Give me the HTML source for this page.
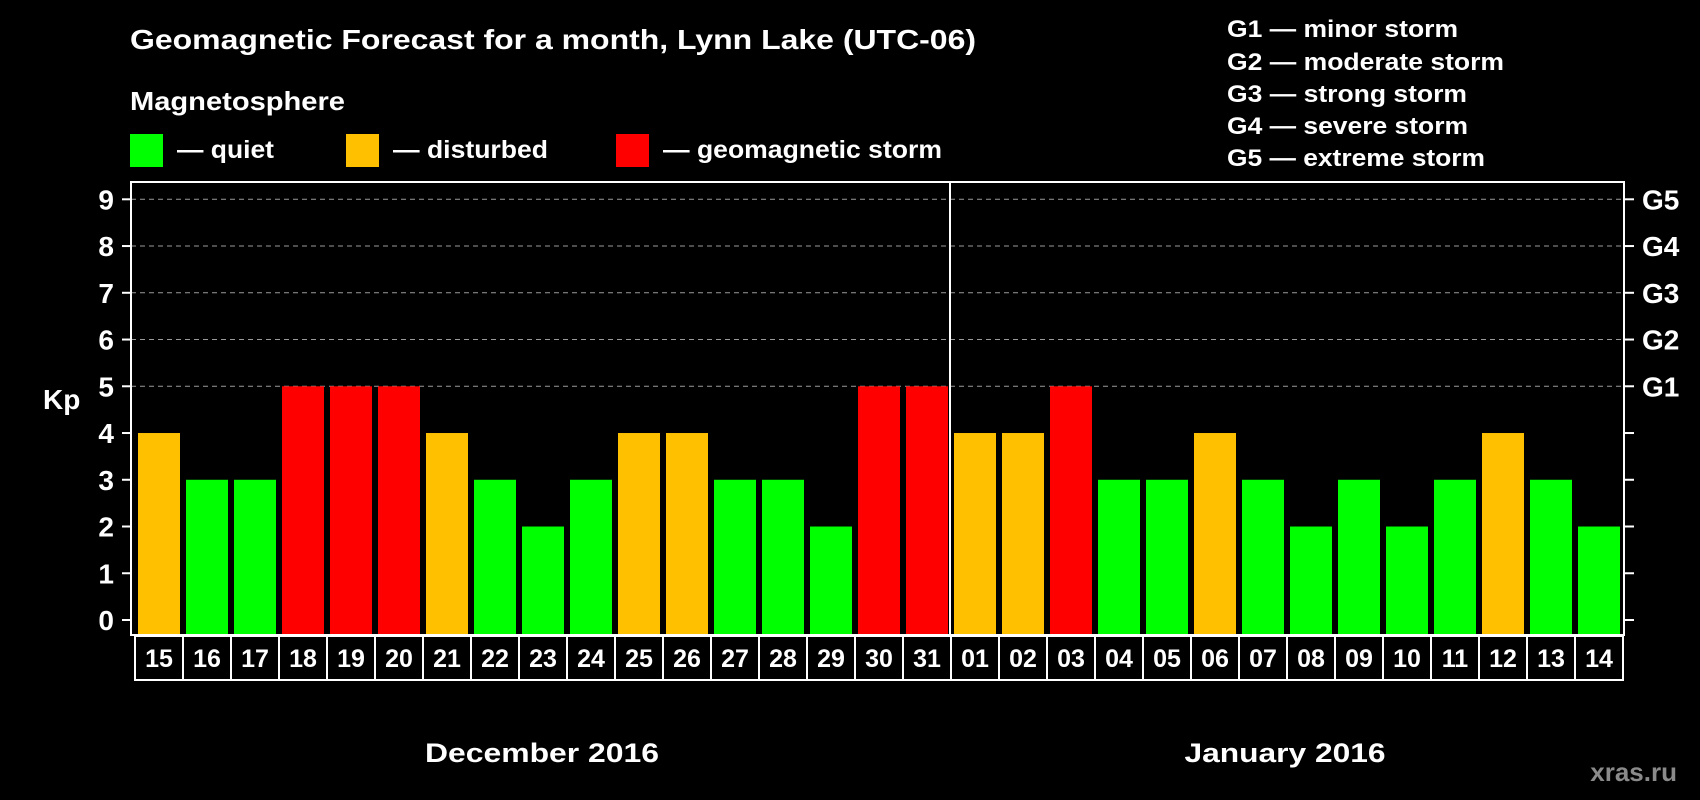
<!DOCTYPE html>
<html><head><meta charset="utf-8">
<style>
html,body{margin:0;padding:0;background:#000;}
svg{display:block;font-family:"Liberation Sans",sans-serif;font-weight:bold;}
</style></head>
<body>
<svg id="chart" width="1700" height="800" viewBox="0 0 1700 800" xmlns="http://www.w3.org/2000/svg">
<rect width="1700" height="800" fill="#000"/>
<text x="130" y="49" fill="#fff" font-size="28" textLength="846" lengthAdjust="spacingAndGlyphs">Geomagnetic Forecast for a month, Lynn Lake (UTC-06)</text>
<text x="130" y="110" fill="#fff" font-size="26" textLength="215" lengthAdjust="spacingAndGlyphs">Magnetosphere</text>
<g>
<rect x="130" y="134" width="33" height="33" fill="#00ff00"/>
<text x="177" y="158" fill="#fff" font-size="25" textLength="97" lengthAdjust="spacingAndGlyphs">— quiet</text></g>
<g>
<rect x="346" y="134" width="33" height="33" fill="#ffc000"/>
<text x="393" y="158" fill="#fff" font-size="25" textLength="155" lengthAdjust="spacingAndGlyphs">— disturbed</text></g>
<g>
<rect x="616" y="134" width="33" height="33" fill="#ff0000"/>
<text x="663" y="158" fill="#fff" font-size="25" textLength="279" lengthAdjust="spacingAndGlyphs">— geomagnetic storm</text></g>
<g fill="#fff" font-size="24">
<text x="1227" y="37" textLength="231" lengthAdjust="spacingAndGlyphs">G1 — minor storm</text>
<text x="1227" y="70" textLength="277" lengthAdjust="spacingAndGlyphs">G2 — moderate storm</text>
<text x="1227" y="102" textLength="240" lengthAdjust="spacingAndGlyphs">G3 — strong storm</text>
<text x="1227" y="134" textLength="241" lengthAdjust="spacingAndGlyphs">G4 — severe storm</text>
<text x="1227" y="166" textLength="258" lengthAdjust="spacingAndGlyphs">G5 — extreme storm</text>
</g>
<text x="43" y="409" fill="#fff" font-size="28">Kp</text>
<g id="grid"></g>
<g id="bars"></g>
<g id="axes"></g>
<text x="542" y="762" fill="#fff" font-size="27" text-anchor="middle" textLength="234" lengthAdjust="spacingAndGlyphs">December 2016</text>
<text x="1285" y="762" fill="#fff" font-size="27" text-anchor="middle" textLength="201" lengthAdjust="spacingAndGlyphs">January 2016</text>
<text x="1677" y="781" fill="#8a8a8a" font-size="26" text-anchor="end">xras.ru</text>
</svg>
<script>
const days = ["15","16","17","18","19","20","21","22","23","24","25","26","27","28","29","30","31","01","02","03","04","05","06","07","08","09","10","11","12","13","14"];
const kpValues = [4,3,3,5,5,5,4,3,2,3,4,4,3,3,2,5,5,4,4,5,3,3,4,3,2,3,2,3,4,3,2];
const yTicks = [0,1,2,3,4,5,6,7,8,9];
const gLabels = ["G1","G2","G3","G4","G5"];
const gLevels = [5,6,7,8,9];

const NS="http://www.w3.org/2000/svg";
const plotLeft=131,plotRight=1624,plotTop=182,plotBottom=635,barX0=134,pitch=48;
const yZero=620,unit=(620-199.3)/9;
function yScale(v){return yZero-v*unit;}
function xScale(i){return barX0+i*pitch;}
function mk(tag,attrs,parent){const e=document.createElementNS(NS,tag);for(const k in attrs)e.setAttribute(k,attrs[k]);parent.appendChild(e);return e;}
function color(v){return v>=5?"#ff0000":(v>=4?"#ffc000":"#00ff00");}

const gridG=document.getElementById("grid"),barsG=document.getElementById("bars"),axesG=document.getElementById("axes");
gLevels.forEach((lv,k)=>{
  const l=mk("line",{x1:plotLeft,x2:plotRight,y1:yScale(lv),y2:yScale(lv),stroke:"#9a9a9a","stroke-width":1,"stroke-dasharray":"5,4"},gridG);
  
  
  const t=mk("text",{x:1642,y:yScale(lv)+10,fill:"#fff","font-size":28},axesG);
  t.textContent=gLabels[k];
  
  
});
kpValues.forEach((v,i)=>{
  const r=mk("rect",{x:xScale(i)+4,y:yScale(v),width:42,height:plotBottom-yScale(v),fill:color(v)},barsG);
  
  
  const c=mk("rect",{x:xScale(i)+1,y:plotBottom+1,width:pitch,height:44,fill:"none",stroke:"#fff","stroke-width":2},axesG);
  
  
  const t=mk("text",{x:xScale(i)+1+pitch/2,y:plotBottom+32,fill:"#fff","font-size":25,"text-anchor":"middle"},axesG);
  t.textContent=days[i];
  
  
});
yTicks.forEach(v=>{
  const y=yScale(v);
  const tl=mk("line",{x1:122,x2:plotLeft,y1:y,y2:y,stroke:"#fff","stroke-width":2},axesG);
  
  
  const tr=mk("line",{x1:plotRight,x2:1634,y1:y,y2:y,stroke:"#fff","stroke-width":2},axesG);
  
  
  const t=mk("text",{x:114,y:y+10,fill:"#fff","font-size":28,"text-anchor":"end"},axesG);
  t.textContent=v;
  
  
});
const fr=mk("rect",{x:plotLeft,y:plotTop,width:plotRight-plotLeft,height:plotBottom-plotTop,fill:"none",stroke:"#fff","stroke-width":2},axesG);


const dv=mk("line",{x1:xScale(17),x2:xScale(17),y1:plotTop,y2:plotBottom,stroke:"#fff","stroke-width":2},axesG);


</script>
</body></html>
